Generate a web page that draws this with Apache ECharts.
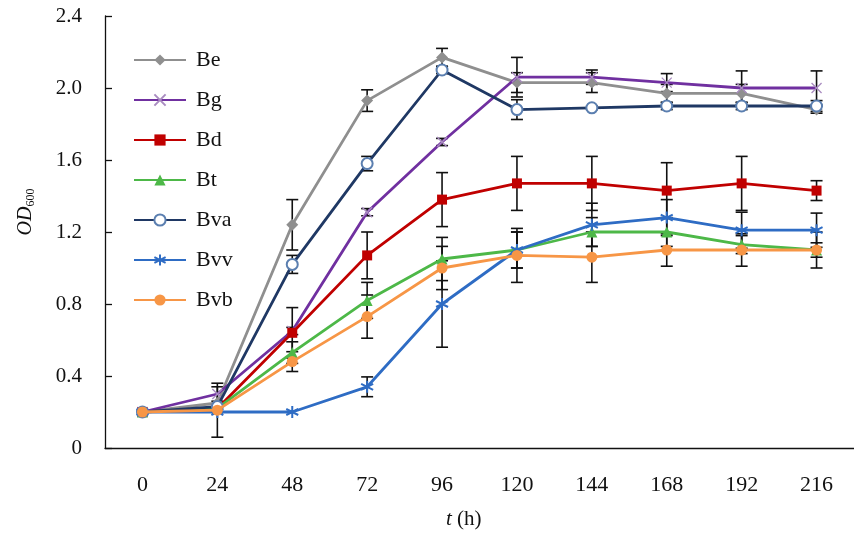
<!DOCTYPE html>
<html><head><meta charset="utf-8">
<script src="https://cdn.jsdelivr.net/npm/echarts@6/dist/echarts.min.js"></script>
<style>html,body{margin:0;padding:0;background:#fff}#c{width:854px;height:539px}</style>
</head><body><div id="c"></div>
<script>
const categories = ['0','24','48','72','96','120','144','168','192','216'];
const yTicks = [0,0.4,0.8,1.2,1.6,2.0,2.4];
const seriesNames = ['Be','Bg','Bd','Bt','Bva','Bvv','Bvb'];
const Be  = [0.20,0.25,1.24,1.93,2.17,2.03,2.03,1.97,1.97,1.88];
const Bg  = [0.20,0.30,0.65,1.31,1.70,2.06,2.06,2.03,2.00,2.00];
const Bd  = [0.20,0.22,0.64,1.07,1.38,1.47,1.47,1.43,1.47,1.43];
const Bt  = [0.20,0.22,0.53,0.82,1.05,1.10,1.20,1.20,1.13,1.10];
const Bva = [0.20,0.23,1.02,1.58,2.10,1.88,1.89,1.90,1.90,1.90];
const Bvv = [0.20,0.20,0.20,0.34,0.80,1.10,1.24,1.28,1.21,1.21];
const Bvb = [0.20,0.21,0.48,0.73,1.00,1.07,1.06,1.10,1.10,1.10];
const errBe  = [0,0,0.14,0.06,0.05,0.055,0.055,0.05,0.05,0.02];
const errBg  = [0,0.04,0.02,0.02,0.02,0.11,0.04,0.05,0.095,0.095];
const errBd  = [0,0,0.14,0.13,0.15,0.15,0.15,0.155,0.15,0.055];
const errBt  = [0,0,0.06,0.1,0.12,0.1,0.08,0.08,0.05,0.04];
const errBva = [0,0,0.05,0.04,0.02,0.055,0.01,0.02,0.02,0.03];
const errBvv = [0,0,0,0.055,0.24,0.1,0.12,0.1,0.1,0.095];
const errBvb = [0,0.15,0.055,0.12,0.12,0.15,0.14,0.09,0.09,0.1];

const values = [Be,Bg,Bd,Bt,Bva,Bvv,Bvb];
const errs = [errBe,errBg,errBd,errBt,errBva,errBvv,errBvb];
const colors = ['#8f8f8f','#7030a0','#c00000','#4db848','#1f3864','#2e6cc4','#f79646'];
const X_PATH = 'path://M0,0L10,10M10,0L0,10';
const AST_PATH = 'path://M5,0L5,10M0.7,2.5L9.3,7.5M9.3,2.5L0.7,7.5';
const symbols = [
  {symbol:'diamond', size:12, item:{color:'#8f8f8f'}},
  {symbol:X_PATH, size:10, item:{color:'none', borderColor:'#a98cc0', borderWidth:1.3}},
  {symbol:'rect', size:10, item:{color:'#c00000'}},
  {symbol:'triangle', size:11, item:{color:'#4db848'}},
  {symbol:'emptyCircle', size:11, item:{color:'#5b7fb0', borderColor:'#5b7fb0', borderWidth:1.3}},
  {symbol:AST_PATH, size:12, item:{color:'none', borderColor:'#2e6cc4', borderWidth:2}},
  {symbol:'circle', size:11, item:{color:'#f79646'}}
];

const errData = [];
values.forEach((arr, s) => arr.forEach((v, i) => { if (errs[s][i] > 0) errData.push([i, v, errs[s][i]]); }));

const serif = '"Liberation Serif","DejaVu Serif",serif';
const lineSeries = seriesNames.map((n, s) => ({
  name: n, type: 'line', data: values[s],
  symbol: symbols[s].symbol, symbolSize: symbols[s].size, showAllSymbol: true,
  itemStyle: symbols[s].item,
  lineStyle: {color: colors[s], width: 2.8},
  z: 3 + s, animation: false
}));

const errSeries = {
  type: 'custom', name: 'err', data: errData, z: 2, animation: false, silent: true,
  renderItem: function (params, api) {
    const i = api.value(0), v = api.value(1), e = api.value(2);
    const top = api.coord([i, v + e]);
    const bot = api.coord([i, v - e]);
    const w = 6;
    const st = {stroke: '#111', lineWidth: 1.6};
    return {type: 'group', children: [
      {type: 'line', shape: {x1: top[0], y1: top[1], x2: bot[0], y2: bot[1]}, style: st},
      {type: 'line', shape: {x1: top[0]-w, y1: top[1], x2: top[0]+w, y2: top[1]}, style: st},
      {type: 'line', shape: {x1: bot[0]-w, y1: bot[1], x2: bot[0]+w, y2: bot[1]}, style: st}
    ]};
  }
};

const chart = echarts.init(document.getElementById('c'), null, {renderer: 'canvas'});
chart.setOption({
  backgroundColor: '#ffffff',
  animation: false,
  grid: {left: 105, top: 16, width: 756, height: 432, containLabel: false},
  legend: {
    data: seriesNames, orient: 'vertical', left: 133, top: 49, padding: 0,
    itemWidth: 52, itemHeight: 14, itemGap: 18,
    textStyle: {fontFamily: serif, fontSize: 22, color: '#111', padding: [0,0,0,5]}
  },
  xAxis: {
    type: 'category', data: categories, boundaryGap: true,
    axisLine: {lineStyle: {color: '#111', width: 1.3}},
    axisTick: {inside: true, length: 9, lineStyle: {color: '#111', width: 1.3}},
    axisLabel: {margin: 26, fontFamily: serif, fontSize: 22, color: '#111'},
    splitLine: {show: false}
  },
  yAxis: {
    type: 'value', min: 0, max: 2.4, interval: 0.4,
    axisLine: {show: true, lineStyle: {color: '#111', width: 1.3}},
    axisTick: {show: true, inside: true, length: 7, lineStyle: {color: '#111', width: 1.3}},
    axisLabel: {margin: 23, fontFamily: serif, fontSize: 21, color: '#111',
      formatter: v => (Math.abs(v) < 1e-9 ? '0' : v.toFixed(1))},
    splitLine: {show: false}
  },
  graphic: [
    {type: 'text', left: 446, top: 509, style: {
      text: '{i|t} (h)', font: '21px ' + serif, fill: '#111',
      rich: {i: {fontStyle: 'italic', fontFamily: serif, fontSize: 21, fill: '#111'}}
    }},
    {type: 'text', x: 26, y: 212, rotation: Math.PI / 2, style: {
      text: '{i|OD}{s|600}', align: 'center', verticalAlign: 'middle', fill: '#111',
      rich: {i: {fontStyle: 'italic', fontFamily: serif, fontSize: 20, fill: '#111'},
             s: {fontFamily: serif, fontSize: 12, fill: '#111', padding: [9,0,0,0]}}
    }}
  ],
  series: [errSeries].concat(lineSeries)
});
</script></body></html>
